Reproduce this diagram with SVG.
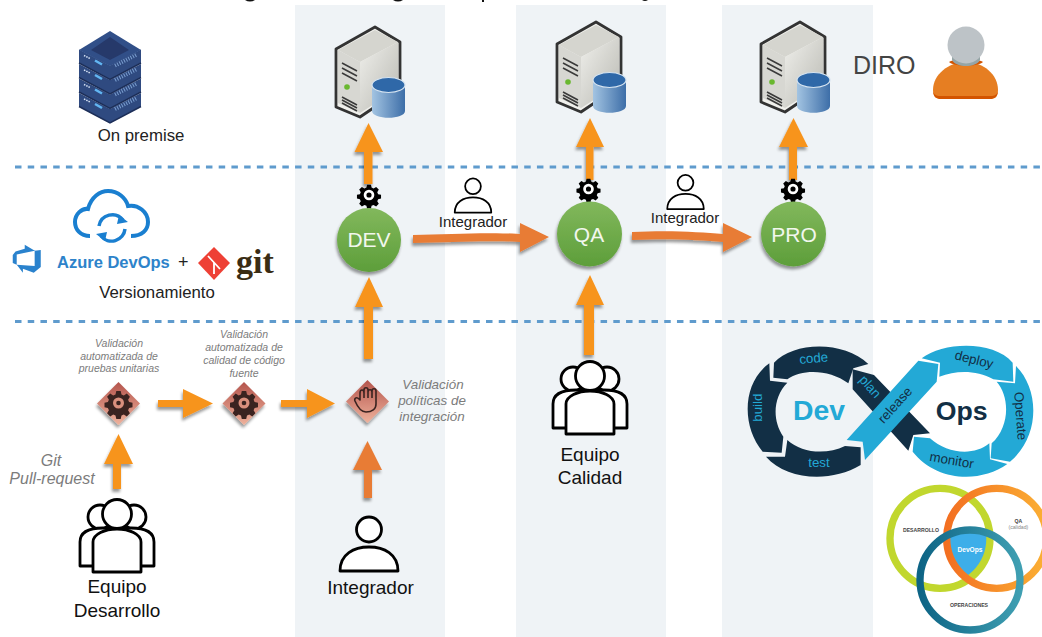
<svg xmlns="http://www.w3.org/2000/svg" width="1042" height="637" viewBox="0 0 1042 637">
<style>
text{font-family:"Liberation Sans",Arial,sans-serif}
.band{fill:#eff3f6}
.sep{stroke:#5f9bcd;stroke-width:3.200;stroke-dasharray:6.500 6.230;fill:none}
.lbl{font-size:19px;fill:#111;text-anchor:middle}
.sm{font-size:15px;fill:#222;text-anchor:middle}
.mid{font-size:16.800px;fill:#222;text-anchor:middle}
.note{font-style:italic;fill:#7c7c7c;text-anchor:middle}
.t{font-size:10.500px}
.p{fill:#fff;stroke:#000;stroke-width:2.800;stroke-linejoin:round}
.c{fill:#f2f7ee;font-size:21px;text-anchor:middle}
.o{fill:#f7941e}
.d{fill:#e87b35}
.dk{fill:#122f45}
.cy{fill:#23a9d6}
</style>
<defs>
<linearGradient id="green" x1="0" y1="0" x2="0" y2="1"><stop offset="0" stop-color="#82b85c"/><stop offset="1" stop-color="#5d9e3a"/></linearGradient>
<linearGradient id="dia" x1="0" y1="0" x2="0" y2="1"><stop offset="0" stop-color="#b4544c"/><stop offset="1" stop-color="#efb29c"/></linearGradient>
<linearGradient id="cyl" x1="0" y1="0" x2="1" y2="0"><stop offset="0" stop-color="#a3c4e2"/><stop offset="1" stop-color="#3d6ea8"/></linearGradient>
<linearGradient id="case" x1="0" y1="0" x2="1" y2="1"><stop offset="0" stop-color="#efefeb"/><stop offset="1" stop-color="#b9b9b2"/></linearGradient>
<linearGradient id="org" x1="0" y1="0" x2="1" y2="0"><stop offset="0" stop-color="#f36f21"/><stop offset="1" stop-color="#fbb034"/></linearGradient>
<linearGradient id="teal" x1="0" y1="0" x2="1" y2="0"><stop offset="0" stop-color="#0d6485"/><stop offset="1" stop-color="#3f9fb2"/></linearGradient>
<filter id="sh" x="-30%" y="-30%" width="160%" height="170%"><feGaussianBlur in="SourceAlpha" stdDeviation="1.500"/><feOffset dx="-1" dy="2.500"/><feComponentTransfer><feFuncA type="linear" slope=".4"/></feComponentTransfer><feMerge><feMergeNode/><feMergeNode in="SourceGraphic"/></feMerge></filter>
<path id="cog" d="M-2.200-12h4.400l.8 3.400 2.300 1 3-1.800 3.100 3.100-1.800 3 1 2.300 3.400.8v4.400l-3.400.8-1 2.300 1.800 3-3.100 3.100-3-1.800-2.300 1-.8 3.400h-4.400l-.8-3.400-2.300-1-3 1.800-3.100-3.100 1.800-3-1-2.300-3.400-.8v-4.400l3.400-.8 1-2.300-1.800-3 3.100-3.100 3 1.800 2.300-1z"/>
<g id="gear" transform="scale(.86)"><use href="#cog"/><circle r="6.200" fill="#fff"/><circle r="3"/></g>
<g id="gearD"><use href="#cog" fill="#3a2320"/><circle r="5.500" fill="#d98f7d"/><circle r="2.300" fill="#3a2320"/></g>
<g id="server">
<path d="M0 0 25 15V63L-15 90-39 80V22Z" fill="#f0f0ec" stroke="#333" stroke-width="2.800" stroke-linejoin="round"/>
<path d="M-37 23 0 3 23 15-15 35Z" fill="#d5d5cf"/>
<path d="M-15 35 23 15V62L-15 86Z" fill="url(#case)"/>
<path d="M-37 23-15 35V86L-37 76Z" fill="#d7d7d2"/>
<path d="M-33 36-18 44M-33 41-18 49M-33 46-18 54M-33 70-18 78M-33 73-18 81M-33 76-18 84" stroke="#3a3a3a" stroke-width="1.500"/>
<circle cx="-28" cy="60" r="2.800" fill="#69b82f"/>
<path d="M-3 58V84C-3 93 30 93 30 84V58Z" fill="url(#cyl)"/>
<ellipse cx="13.500" cy="58" rx="16.500" ry="7.500" fill="#2f68a8" stroke="#d5e3f0" stroke-width="1.200"/>
</g>
<g id="user"><circle cx="0" cy="-14.500" r="12.500" class="p"/><path d="M-29 27C-29 10-15 3 0 3S29 10 29 27Z" class="p"/></g>
<g id="team">
<circle cx="-17" cy="-21" r="12" class="p"/><circle cx="17" cy="-21" r="12" class="p"/>
<path d="M-37 28V4C-37-6-28-10-14-10H14C28-10 37-6 37 4V28Z" class="p"/>
<circle cx="0" cy="-24" r="14.500" class="p"/>
<path d="M-24 34V4C-24-4-12-9 0-9S24-4 24 4V34Z" class="p"/>
</g>
<g id="layer">
<path d="M-31 0 0 16 31 0V13.500L0 30-31 13.500Z" fill="#2f4a80"/>
<path d="M-31 13.500 0 30 31 13.500" fill="none" stroke="#1c2e58" stroke-width="1.500"/>
<path d="M-26 6-20 9" stroke="#d6e3f5" stroke-width="1.500" stroke-dasharray="1.500 1"/>
<path d="M-15 11-8 15" stroke="#62b6f2" stroke-width="2.500"/>
<path d="M5 16 27 5" stroke="#7b9fd0" stroke-width="4" stroke-dasharray="1 1.500"/>
</g>
<clipPath id="cG"><circle cx="630" cy="595" r="150"/></clipPath>
<clipPath id="cO"><circle cx="800" cy="595" r="150"/></clipPath>
</defs>
<rect width="1042" height="637" fill="#fff"/>
<g id="bands">
<rect class="band" x="295" y="5" width="150" height="632"/>
<rect class="band" x="516" y="5" width="150" height="632"/>
<rect class="band" x="722" y="5" width="151" height="632"/>
</g>
<g id="cut-title" fill="#111">
<path d="M245 0Q250 3 255 0ZM393 0Q398 3 403 0ZM482 0V2H484V0ZM642 0Q645 2 648 0Z"/>
</g>
<g id="separators">
<path class="sep" d="M15 167H1042"/>
<path class="sep" d="M15 321.500H1042"/>
</g>
<g id="connectors">
<g class="o" filter="url(#sh)">
<path d="M364 184V152H354.500L368.500 123 383 152H372.500V184Z"/>
<path d="M586 180V147H576L590 118 604 147H593.500V180Z"/>
<path d="M789 180V147H779L793.500 118 808 147H797V180Z"/>
<path d="M364 359V307H355L369 277 383 307H373V359Z"/>
<path d="M584 355V305H576L590 275 604 305H594V355Z"/>
<path d="M113 489V464H104L118.500 434 133 464H121V489Z"/>
<path d="M158 400H183V389L213 403.500 183 418V407H158Z"/>
<path d="M281 400H307V389L335 403.500 307 418V407H281Z"/>
</g>
<g class="d" filter="url(#sh)">
<path d="M364 498V470H353L367.500 441 382 470H372V498Z"/>
<path d="M413 235C450 234 490 232 520 234V223L549 237 520 252V242C490 240 450 242 413 243Z"/>
<path d="M632 232C670 230 700 232 723 234V223L752 237 723 252V242C700 240 670 238 632 240Z"/>
</g>
</g>
<g id="on-premise">
<use href="#layer" x="110" y="93"/><use href="#layer" x="110" y="78.500"/><use href="#layer" x="110" y="64"/><use href="#layer" x="110" y="49.500"/>
<path d="M110 31 141 50 110 66 79 50Z" fill="#314f88"/><path d="M110 37 129 50 110 60 91 50Z" fill="#26396a"/>
<text class="mid" x="141" y="141">On premise</text>
</g>
<g id="servers"><use href="#server" x="375" y="27"/><use href="#server" x="596" y="22"/><use href="#server" x="800" y="22"/></g>
<g id="diro">
<text x="853" y="74" font-size="25" fill="#444">DIRO</text>
<path d="M933 90C933 75 948 62 966 62S998 75 998 90C998 97 995 99 990 99H941C936 99 933 97 933 90Z" fill="#e67e22"/>
<path d="M933 92C934 97 937 99 941 99H990C994 99 997 97 998 92 996 96 993 96 990 96H941C938 96 935 96 933 92Z" fill="#d35400"/>
<path d="M949 62C955 67 977 67 983 62 977 58 955 58 949 62Z" fill="#d35400"/>
<path d="M952 60C956 68 976 68 980 60V56H952Z" fill="#95a5a6"/>
<circle cx="966" cy="45" r="18.500" fill="#bdc3c7"/>
</g>
<g id="azure">
<path d="M90 236C80 236 75 229 75 222 75 214 82 208 88 209 91 197 100 191 108 191 118 191 126 198 128 206 138 204 148 212 148 222 148 230 142 236 131 236" fill="none" stroke="#1a7fd0" stroke-width="4"/>
<path d="M99 226A13.500 13.500 0 0 1 123 220M125 229A13.500 13.500 0 0 1 101 236" fill="none" stroke="#1a7fd0" stroke-width="3.500"/>
<path d="M119 215 128 222 117 224ZM105 241 96 234 107 232Z" fill="#1a7fd0"/>
<path transform="translate(11 243) scale(1.750)" d="M17 4V13.740L13 17.020 6.800 14.760V17L3.290 12.410 13.520 13.210V4.440ZM13.590 4.490 7.850 1V3.290L2.580 4.840 1 6.870V11.480L3.260 12.480V6.570Z" fill="#2a82cd"/>
<text x="57" y="268" font-size="16.500" font-weight="bold" fill="#2d83ca">Azure DevOps</text>
<text x="178" y="268" font-size="18" fill="#222">+</text>
<path d="M214 247 230 263 214 280 198 263Z" fill="#ee4035"/>
<path d="M208 256 220 269M214 262V274" stroke="#fff" stroke-width="1.800"/>
<text x="236" y="273" font-size="34" font-weight="bold" fill="#3a2c14" style="font-family:'Liberation Serif',serif">git</text>
<text class="mid" x="157" y="298">Versionamiento</text>
</g>
<g id="node-dev"><use href="#gear" x="369" y="195"/><circle cx="369" cy="240" r="32" fill="url(#green)" filter="url(#sh)"/><text class="c" x="369" y="247">DEV</text></g>
<g id="node-qa"><use href="#gear" x="588.500" y="189"/><circle cx="589.500" cy="234" r="32.500" fill="url(#green)" filter="url(#sh)"/><text class="c" x="589" y="242">QA</text></g>
<g id="node-pro"><use href="#gear" x="793" y="189"/><circle cx="793.500" cy="234" r="32.500" fill="url(#green)" filter="url(#sh)"/><text class="c" x="794" y="242">PRO</text></g>
<g id="integrador-1"><use href="#user" transform="translate(473 195.500) scale(.63)"/><text class="sm" x="473" y="226.500">Integrador</text></g>
<g id="integrador-2"><use href="#user" transform="translate(685.500 192) scale(.63)"/><text class="sm" x="685" y="222.500">Integrador</text></g>
<g id="check-1"><path d="M118.500 382 140 403.500 118.500 425 97 403.500Z" fill="url(#dia)" filter="url(#sh)"/><use href="#gearD" x="118.500" y="403"/>
<text class="note t" x="119" y="347">Validación</text><text class="note t" x="119" y="359.500">automatizada de</text><text class="note t" x="119" y="372">pruebas unitarias</text></g>
<g id="check-2"><path d="M244 382 265.500 403.500 244 425 222.500 403.500Z" fill="url(#dia)" filter="url(#sh)"/><use href="#gearD" x="244" y="403"/>
<text class="note t" x="244" y="338">Validación</text><text class="note t" x="244" y="351">automatizada de</text><text class="note t" x="244" y="364">calidad de código</text><text class="note t" x="244" y="377">fuente</text></g>
<g id="check-3"><path d="M367.500 380 389 401.500 367.500 423 346 401.500Z" fill="url(#dia)" filter="url(#sh)"/>
<path d="M372 395V391C372 388 376 388 376 391V404C376 409 372 412 366 412 361 412 358 408 355 401 354 398 357 396 360 400V393C360 389 364 389 364 393V398M364 393V390C364 387 368 387 368 390V398M368 392C368 389 372 389 372 392V398" fill="none" stroke="#3a2320" stroke-width="1.600" stroke-linejoin="round"/>
<g class="note" font-size="13.400"><text x="433" y="389">Validación</text><text x="432" y="405">políticas de</text><text x="432" y="421">integración</text></g></g>
<g id="git-label" class="note" font-size="16"><text x="51" y="466">Git</text><text x="52" y="484">Pull-request</text></g>
<g id="equipo-desarrollo"><use href="#team" x="117" y="538"/><text class="lbl" x="117" y="593">Equipo</text><text class="lbl" x="117" y="616.500">Desarrollo</text></g>
<g id="equipo-calidad"><use href="#team" x="590" y="400"/><text class="lbl" x="590" y="461">Equipo</text><text class="lbl" x="590" y="484">Calidad</text></g>
<g id="integrador-3"><use href="#user" x="369" y="544"/><text class="lbl" x="370.500" y="594">Integrador</text></g>
<g id="devops-loop" transform="translate(730 340) scale(.33333)">
<path class="dk" d="M132 68C190 5 340 0 415 72L370 85 355 130C300 90 220 85 172 118L130 113Z"/>
<path class="dk" d="M118 70 120 122 172 128C130 170 125 240 160 290L155 338 98 335C35 260 35 130 118 70Z"/>
<path class="dk" d="M108 350 165 350 172 300C215 340 290 345 345 318L392 322 392 375C300 430 170 420 108 350Z"/>
<path class="dk" d="M368 88 432 105 600 280 550 285 535 332 368 148Z"/>
<path class="cy" d="M350 300 565 62 625 72 620 125 405 360 398 305Z"/>
<path class="cy" d="M575 55C640 5 790 0 848 68L850 125 790 118C740 90 680 90 628 110L630 68Z"/>
<path class="cy" d="M858 78C930 150 930 290 840 365L782 355 785 310C840 260 840 170 800 125L855 130Z"/>
<path class="cy" d="M832 372C750 430 620 425 548 335L552 290 600 295C650 340 730 350 778 310L780 358Z"/>
<text x="267" y="240" font-size="85" font-weight="bold" fill="#23a9d6" text-anchor="middle">Dev</text>
<text x="695" y="240" font-size="80" font-weight="bold" fill="#122f45" text-anchor="middle">Ops</text>
<g font-size="40" text-anchor="middle">
<text x="251" y="68" fill="#23a9d6" transform="rotate(-5 251 55)">code</text>
<text x="108" y="215" fill="#23a9d6" transform="rotate(-90 96 215)">build</text>
<text x="267" y="380" fill="#23a9d6">test</text>
<text x="418" y="152" fill="#23a9d6" transform="rotate(48 418 142)">plan</text>
<text x="497" y="208" fill="#122f45" transform="rotate(-48 497 197)">release</text>
<text x="732" y="72" fill="#122f45" transform="rotate(14 732 60)">deploy</text>
<text x="870" y="240" fill="#122f45" transform="rotate(86 870 228)">Operate</text>
<text x="665" y="374" fill="#122f45" transform="rotate(10 665 362)">monitor</text>
</g>
</g>
<g id="devops-venn" transform="translate(730 340) scale(.33333)" fill="none">
<g clip-path="url(#cG)"><g clip-path="url(#cO)"><circle cx="720" cy="720" r="150" fill="#3daee9"/></g></g>
<circle cx="630" cy="595" r="150" stroke="#c1d72e" stroke-width="22"/>
<circle cx="800" cy="595" r="150" stroke="url(#org)" stroke-width="22"/>
<circle cx="720" cy="720" r="150" stroke="url(#teal)" stroke-width="22"/>
<g fill="#444" text-anchor="middle" font-weight="bold" font-size="15.500"><text x="573" y="575">DESARROLLO</text><text x="865" y="549">QA</text><text x="865" y="568" font-weight="normal" fill="#888">(calidad)</text><text x="717" y="801">OPERACIONES</text><text x="720" y="635" fill="#fff" font-size="20">DevOps</text></g>
</g>
</svg>
